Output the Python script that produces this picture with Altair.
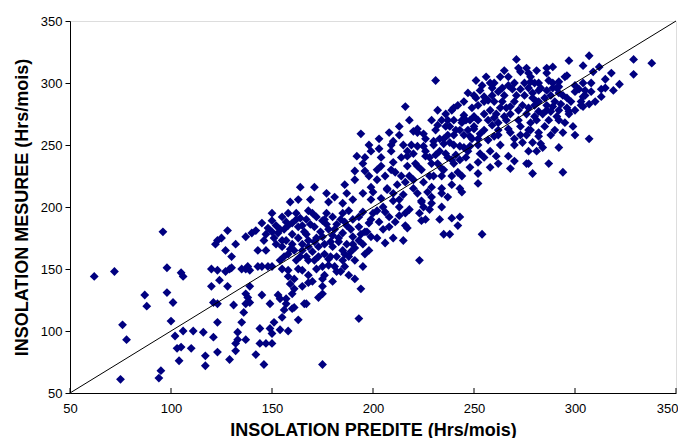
import altair as alt
import pandas as pd

PRED = [
 62,72,96,98,105,106,87,88,98,101,100,76,78,102,106,111,116,103,105,110,104,95,94,75,121,117,117,123,123,121,123,120,124,120,123,122,123,
 128,132,133,129,132,137,142,146,175,144,147,150,133,135,144,149,150,154,158,163,151,155,156,160,161,166,157,157,136,131,137,139,139,145,149,153,154,137,138,128,127,129,130,135,138,139,145,150,155,158,161,158,159,161,165,168,167,160,175,173,175,175,165,168,171,175,178,181,182,186,191,195,191,194,193,
 150,155,158,164,168,163,160,150,153,157,155,159,156,154,162,167,170,173,176,180,182,185,188,191,195,198,190,185,180,175,171,175,180,185,188,195,198,193,168,165,146,147,143,140,137,142,125,137,143,148,
 194,192,199,191,196,186,191,187,181,177,185,164,171,169,163,159,198,199,195,199,190,178,
 271,273,231,263,251,267,273,247,253,259,262,255,257,252,242,216,232,245,239,237,250,248,252,263,265,268,272,273,270,267,262,259,257,222,220,225,232,234,229,240,244,241,237,245,250,248,253,243,240,235,230,225,222,210,203,209,215,217,220,226,231,236,239,243,248,253,257,260,261,267,270,268,276,252,252,243,244,239,234,228,229,234,222,220,214,209,207,210,213,204,202,204,217,222,229,234,224,229,
 223,254,235,238,242,239,243,217,224,226,210,206,215,202,208,213,216,225,234,206,202,
 307,297,329,338,329,304,312,318,289,281,315,322,319,315,313,308,304,303,304,307,292,287,294,279,277,277,284,283,297,296,292,291,289,288,282,282,279,278,280,282,281,279,282,286,289,292,295,292,287,282,277,278,300,300,305,304,292,296,277,277,286,309,286,
 152,156,160,163,166,169,172,177,182,186,190,193,196,199,178,183,187,172,165,160,157,162,167,176,179,185,189,194,152,148,145,
 205,210,215,220,225,230,235,240,212,218,224,228,233,238,206,210,214,219,226,231,236,241,245,203,208,213,218,224,229,234,239,244,248,252,
 255,260,265,270,275,262,268,272,276,280,285,290,258,264,270,275,278,283,288,293,298,255,260,266,273,278,285,290,295,300,303,307,247,252,258,263,268,274,281,286,291,296,286,276,267,258,
 127,130,132,
 147,151,155,158,161,164,168,171,174,177,181,184,187,190,193,197,199,196,189,183,176,170,165,162,158,154,150,167,173,179,
 163,168,172,176,180,184,188,170,178,186,
 200,202,204,207,209,211,213,216,217,221,222,223,226,227,230,232,235,237,240,242,243,246,249,200,205,211,216,228,233,237,213,218,208,203,198,196,195,
 246,249,251,254,256,259,261,264,266,269,271,274,277,279,282,284,287,289,292,294,297,299,302,305,308,310,313,262,270,276,281,288,294,300,265,272,280,260,255,250,
 233,236,240,244,247,252,255,258,262,250,245,238,
]
MES = [
 144,148,180,151,147,144,129,120,131,123,108,105,93,96,100,100,99,86,87,86,76,68,62,61,95,80,72,83,107,123,122,136,141,150,149,170,173,
 181,90,93,77,84,93,81,73,73,90,90,90,99,107,102,102,98,101,100,109,107,111,117,118,119,122,122,126,115,121,122,123,136,129,122,129,126,130,127,136,148,150,151,150,152,149,152,152,150,149,142,144,138,134,136,139,122,130,136,127,130,142,149,157,157,152,153,152,148,152,157,152,142,134,110,
 189,192,195,191,197,184,187,180,179,173,173,166,160,157,157,160,164,168,162,168,160,165,160,167,170,165,176,179,177,176,184,189,192,195,197,196,187,184,173,170,173,165,165,179,176,181,175,150,152,152,
 259,241,245,229,229,218,222,211,208,211,203,216,216,206,206,204,225,216,211,206,206,204,
 319,309,302,305,302,298,295,292,294,296,293,289,286,282,282,281,278,274,278,270,273,270,270,280,273,281,270,258,255,263,262,266,270,263,261,259,266,270,270,270,268,262,258,258,263,257,259,249,250,251,253,249,249,253,247,245,250,241,243,241,242,243,238,238,249,243,254,257,241,241,237,231,235,227,219,215,212,225,225,225,216,211,211,222,225,230,214,211,206,207,222,233,233,233,235,231,204,203,
 157,178,178,178,185,191,192,183,189,190,175,171,173,175,184,193,195,200,200,196,197,
 322,318,319,316,307,314,313,308,313,310,303,299,294,296,289,293,289,282,281,255,248,235,228,227,235,245,248,251,277,280,270,273,281,277,260,257,252,268,273,277,285,292,294,294,296,297,305,301,302,300,308,301,298,293,294,300,292,288,262,280,278,309,308,
 185,182,178,175,180,186,192,195,186,188,190,192,180,176,182,172,170,175,165,170,188,195,190,170,160,157,182,178,170,183,187,
 200,205,210,215,220,225,230,235,218,225,230,240,245,252,225,236,240,250,255,262,265,242,248,188,192,200,198,205,208,215,218,225,232,236,
 275,285,290,285,290,268,275,278,275,282,288,285,278,296,300,300,305,296,290,283,285,262,272,280,265,262,265,262,268,278,285,283,262,250,245,250,260,252,270,282,296,306,312,312,305,300,
 165,160,170,
 178,175,168,162,165,160,168,172,180,186,182,190,185,170,173,180,190,162,164,175,190,195,185,190,185,182,195,178,160,172,
 150,145,150,145,140,148,145,140,158,162,
 212,230,240,215,250,228,258,220,245,235,260,195,245,212,250,235,255,240,258,228,262,240,255,195,182,188,185,198,190,208,265,270,260,255,250,240,235,
 270,280,288,298,305,290,275,285,270,295,290,282,296,288,285,275,270,300,278,290,275,265,295,290,300,285,295,258,250,258,245,258,260,258,310,312,300,300,285,265,
 255,275,280,270,245,255,240,232,235,290,285,265,
]

AXIS_MIN, AXIS_MAX = 50, 350
TICKS = [50, 100, 150, 200, 250, 300, 350]

df = pd.DataFrame({"pred": PRED, "mes": MES})
diag = pd.DataFrame({"pred": [AXIS_MIN, AXIS_MAX], "mes": [AXIS_MIN, AXIS_MAX]})
ticks = pd.DataFrame({"t": TICKS})

FONT = "Liberation Sans"

xscale = alt.Scale(domain=[AXIS_MIN, AXIS_MAX], nice=False, zero=False)
yscale = alt.Scale(domain=[AXIS_MIN, AXIS_MAX], nice=False, zero=False)

last_tick = f"datum.value == {AXIS_MAX}"

points = alt.Chart(df).mark_point(
    shape="diamond", filled=True, size=78, color="#000080", opacity=1, strokeWidth=0
).encode(
    x=alt.X("pred:Q", scale=xscale, axis=alt.Axis(
        values=TICKS, title="INSOLATION PREDITE (Hrs/mois)", tickSize=0,
        labelPadding=9, labelFontSize=13, labelFont=FONT, labelColor="#000",
        labelAlign=alt.condition(last_tick, alt.value("right"), alt.value("center")),
        labelOffset=alt.condition(last_tick, alt.value(2), alt.value(0)),
        titleFont=FONT, titleFontSize=18, titleFontWeight="bold", titleColor="#000",
        titlePadding=6, grid=False, domainColor="#000", labelFlush=False)),
    y=alt.Y("mes:Q", scale=yscale, axis=alt.Axis(
        values=TICKS, title="INSOLATION MESUREE (Hrs/mois)", tickSize=5,
        tickColor="#000", labelPadding=3, labelFontSize=13, labelFont=FONT,
        labelColor="#000", titleFont=FONT, titleFontSize=18, titleFontWeight="bold",
        titleColor="#000", titlePadding=9, grid=False, domainColor="#000", labelFlush=False)),
)

line = alt.Chart(diag).mark_line(color="#000", strokeWidth=1).encode(
    x=alt.X("pred:Q", scale=xscale), y=alt.Y("mes:Q", scale=yscale)
)

xticks = alt.Chart(ticks).mark_rule(color="#000", strokeWidth=1).encode(
    x=alt.X("t:Q", scale=xscale), y=alt.value(372), y2=alt.value(367)
)

chart = alt.layer(points, line, xticks).properties(
    width=606, height=372,
    autosize=alt.AutoSizeParams(type="none"),
    padding={"left": 62, "top": 13, "right": 2, "bottom": 45},
).configure_view(stroke="#000", strokeWidth=1).configure(background="white")

chart.save("out.html", embed_options={"renderer": "svg", "actions": False})
